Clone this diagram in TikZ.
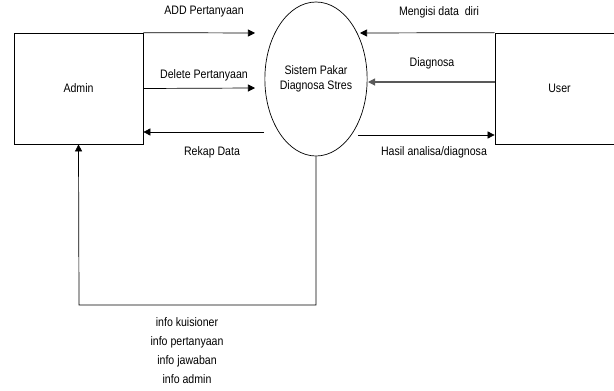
\documentclass[tikz,border=0pt]{standalone}
\usepackage{fontspec}
\setmainfont[FakeStretch=0.86]{Liberation Sans}
\usetikzlibrary{arrows.meta,positioning,shapes.geometric}
\tikzset{
  entity/.style={draw, line width=0.6pt, minimum width=3.87cm, minimum height=3.33cm, inner sep=0pt},
  flow/.style={->, line width=0.6pt},
  lbl/.style={inner sep=1pt, align=center}
}
\begin{document}
\begin{tikzpicture}[x=0.03cm, y=-0.03cm, >={Triangle[length=6pt,width=6pt]}, font=\fontsize{10.5}{12.5}\selectfont]
	\useasboundingbox (0,0) rectangle (614,391);
	% entitas luar dan proses
	\node[entity] (admin) at (78.5,88.5) {Admin};
	\node[entity] (user) at (559.5,88.5) {User};
	\node[draw, line width=0.6pt, ellipse, minimum width=3.06cm, minimum height=4.62cm, inner sep=0pt, align=center] (sistem) at (316,79) {Sistem Pakar\\Diagnosa Stres};
	
	% titik ujung panah
	\coordinate (addEnd) at (255,33);
	\coordinate (delEnd) at (255,88);
	\coordinate (rekapStart) at (264,132);
	\coordinate (isiEnd) at (360,33);
	\coordinate (diagEnd) at (368,82);
	\coordinate (hasilStart) at (358,135);
	\coordinate (infoA) at (316,305);
	\coordinate (infoB) at (79,305);
	
	% aliran admin
	\draw[flow] (admin.north east) -- (addEnd);
	\node[lbl] (addLbl) at (204,12) {ADD Pertanyaan};
	\draw[flow] (admin.east) -- (delEnd);
	\node[lbl] (delLbl) at (204,75) {Delete Pertanyaan};
	\draw[flow] (rekapStart) -- (rekapStart -| admin.east);
	\node[lbl] (rekapLbl) at (212,152) {Rekap Data};
	
	% aliran user
	\draw[flow] (user.north west) -- (isiEnd);
	\node[lbl] (isiLbl) at (439,12) {Mengisi data\ \ diri};
	\draw[flow, gray!70!black, line width=0.9pt] (diagEnd -| user.west) -- (diagEnd);
	\node[lbl] (diagLbl) at (432,63) {Diagnosa};
	\draw[flow] (hasilStart) -- (hasilStart -| user.west);
	\node[lbl] (hasilLbl) at (434,152) {Hasil analisa/diagnosa};
	
	% info ke admin
	\draw[flow] (sistem.south) -- (infoA) -- (infoB) -- (admin.south);
	\node[lbl, font=\fontsize{10.5}{16.2}\selectfont] (infoLbl) at (187,351) {info kuisioner\\info pertanyaan\\info jawaban\\info admin};
\end{tikzpicture}
\end{document}
